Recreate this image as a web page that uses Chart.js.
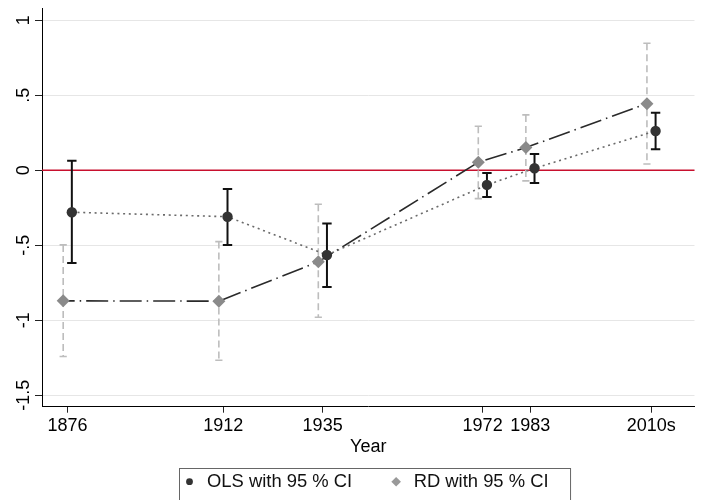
<!DOCTYPE html>
<html>
<head>
<meta charset="utf-8">
<script src="https://cdn.jsdelivr.net/npm/chart.js@4/dist/chart.umd.min.js"></script>
<style>
  html, body { margin: 0; padding: 0; background: #fff; }
</style>
</head>
<body>
<canvas id="myChart" width="701" height="500"></canvas>
<script>
(() => {
  'use strict'

  // x positions (years) and the labels shown under them
  const years = [1876, 1912, 1935, 1972, 1983, 2011]
  const yearLabels = ['1876', '1912', '1935', '1972', '1983', '2010s']
  const yTicks = [-1.5, -1, -0.5, 0, 0.5, 1]
  const yTickLabels = ['-1.5', '-1', '-.5', '0', '.5', '1']

  // OLS estimates with 95 % CI
  const olsEst = [-0.28, -0.31, -0.565, -0.098, 0.013, 0.262]
  const olsLo = [-0.618, -0.498, -0.778, -0.178, -0.085, 0.14]
  const olsHi = [0.064, -0.125, -0.356, -0.018, 0.109, 0.384]

  // RD estimates with 95 % CI
  const rdEst = [-0.871, -0.873, -0.611, 0.053, 0.151, 0.444]
  const rdLo = [-1.242, -1.267, -0.98, -0.189, -0.071, 0.042]
  const rdHi = [-0.498, -0.476, -0.227, 0.293, 0.369, 0.847]

  const refLine = 0
  const shift = 1 // years, keeps the two estimates apart

  const fontFamily = "'Liberation Sans', Arial, Helvetica, sans-serif"

  // error bars + red zero line, under the lines and markers
  const ciBars = {
    id: 'ciBars',
    beforeDatasetsDraw (chart) {
      const { ctx, chartArea, scales: { x, y } } = chart
      ctx.save()
      const y0 = y.getPixelForValue(refLine)
      ctx.strokeStyle = '#c8102e'
      ctx.lineWidth = 1.5
      ctx.beginPath()
      ctx.moveTo(chartArea.left, y0)
      ctx.lineTo(chartArea.right, y0)
      ctx.stroke()

      chart.data.datasets.forEach(ds => {
        const ci = ds.ci
        ds.data.forEach((pt, i) => {
          const px = x.getPixelForValue(pt.x)
          const top = y.getPixelForValue(ci.hi[i])
          const bot = y.getPixelForValue(ci.lo[i])
          ctx.strokeStyle = ci.color
          ctx.lineWidth = ci.width
          ctx.setLineDash(ci.dash)
          ctx.beginPath()
          ctx.moveTo(px, top)
          ctx.lineTo(px, bot)
          ctx.stroke()
          ctx.setLineDash([])
          ctx.beginPath()
          ctx.moveTo(px - ci.cap, top)
          ctx.lineTo(px + ci.cap, top)
          ctx.moveTo(px - ci.cap, bot)
          ctx.lineTo(px + ci.cap, bot)
          ctx.stroke()
        })
      })
      ctx.restore()
    }
  }

  // Stata-style boxed legend below the axis title
  const boxLegend = {
    id: 'boxLegend',
    afterDraw (chart) {
      const { ctx, chartArea } = chart
      const items = chart.data.datasets
      ctx.save()
      ctx.font = '18.4px ' + fontFamily
      const textW = items.map(ds => ctx.measureText(ds.label).width)
      const markGap = 17.5
      const itemGap = 44
      const padL = 10
      const padR = 22
      const boxW = padL + padR + items.length * markGap + textW.reduce((a, b) => a + b, 0) + itemGap * (items.length - 1)
      const left = Math.round((chartArea.left + chartArea.right) / 2 - boxW / 2 + 6) + 0.5
      const top = Math.round(chartArea.bottom + 61) + 0.5
      const midY = chartArea.bottom + 75

      ctx.strokeStyle = '#666'
      ctx.lineWidth = 1
      ctx.strokeRect(left, top, boxW, 60)

      let cx = left + padL
      items.forEach((ds, i) => {
        ctx.fillStyle = ds.legendColor
        ctx.beginPath()
        if (ds.pointStyle === 'rectRot') {
          const r = 4.8
          ctx.moveTo(cx, midY - r)
          ctx.lineTo(cx + r, midY)
          ctx.lineTo(cx, midY + r)
          ctx.lineTo(cx - r, midY)
          ctx.closePath()
        } else {
          ctx.arc(cx, midY, 3.4, 0, Math.PI * 2)
        }
        ctx.fill()
        ctx.fillStyle = '#111'
        ctx.textAlign = 'left'
        ctx.textBaseline = 'middle'
        ctx.fillText(ds.label, cx + markGap, midY)
        cx += markGap + textW[i] + itemGap
      })
      ctx.restore()
    }
  }

  const ctx = document.getElementById('myChart')
  // eslint-disable-next-line no-unused-vars
  const myChart = new Chart(ctx, {
    type: 'scatter',
    data: {
      datasets: [{
        label: 'OLS with 95 % CI',
        data: years.map((yr, i) => ({ x: yr + shift, y: olsEst[i] })),
        showLine: true,
        borderColor: '#6a6a6a',
        borderWidth: 1.6,
        borderDash: [2, 3.7],
        pointStyle: 'circle',
        pointRadius: 5.2,
        pointBackgroundColor: '#333',
        pointBorderColor: '#333',
        pointBorderWidth: 0,
        legendColor: '#333',
        ci: { lo: olsLo, hi: olsHi, color: '#111', width: 2, dash: [], cap: 4.7 }
      }, {
        label: 'RD with 95 % CI',
        data: years.map((yr, i) => ({ x: yr - shift, y: rdEst[i] })),
        showLine: true,
        borderColor: '#2a2a2a',
        borderWidth: 1.6,
        borderDash: [22, 5, 1.5, 5],
        borderDashOffset: 10.5,
        pointStyle: 'rectRot',
        pointRadius: 6.5,
        pointBackgroundColor: '#8a8a8a',
        pointBorderColor: '#8a8a8a',
        pointBorderWidth: 0,
        legendColor: '#999',
        ci: { lo: rdLo, hi: rdHi, color: '#bdbdbd', width: 1.6, dash: [7, 4], cap: 3.6 }
      }]
    },
    options: {
      responsive: false,
      animation: false,
      layout: {
        padding: { top: 8, right: 0, bottom: 0, left: 0 }
      },
      scales: {
        x: {
          type: 'linear',
          min: 1870.1,
          max: 2021,
          afterBuildTicks: scale => {
            scale.ticks = years.map(v => ({ value: v }))
          },
          afterFit: scale => {
            scale.height = 93.3
            scale.paddingLeft = 0
            scale.paddingRight = 0
          },
          ticks: {
            autoSkip: false,
            maxRotation: 0,
            padding: 3,
            color: '#000',
            font: { family: fontFamily, size: 18 },
            callback: value => yearLabels[years.indexOf(value)]
          },
          grid: {
            drawOnChartArea: false,
            drawTicks: true,
            tickLength: 6,
            tickColor: '#222'
          },
          border: { color: '#000', width: 1 },
          title: {
            display: true,
            text: 'Year',
            color: '#000',
            font: { family: fontFamily, size: 18 },
            padding: { top: 0, bottom: 42 }
          }
        },
        y: {
          min: -1.577,
          max: 1.082,
          afterBuildTicks: scale => {
            scale.ticks = yTicks.map(v => ({ value: v }))
          },
          afterFit: scale => {
            scale.width = 42
            scale.paddingTop = 0
            scale.paddingBottom = 0
          },
          ticks: {
            minRotation: 90,
            maxRotation: 90,
            crossAlign: 'center',
            padding: -5,
            color: '#000',
            font: { family: fontFamily, size: 18 },
            callback: value => yTickLabels[yTicks.indexOf(value)]
          },
          grid: {
            color: '#e6e6e6',
            lineWidth: 1,
            tickLength: 7,
            tickColor: '#222'
          },
          border: { color: '#000', width: 1 }
        }
      },
      plugins: {
        legend: { display: false },
        tooltip: { enabled: false }
      }
    },
    plugins: [ciBars, boxLegend]
  })
})()
</script>
</body>
</html>
